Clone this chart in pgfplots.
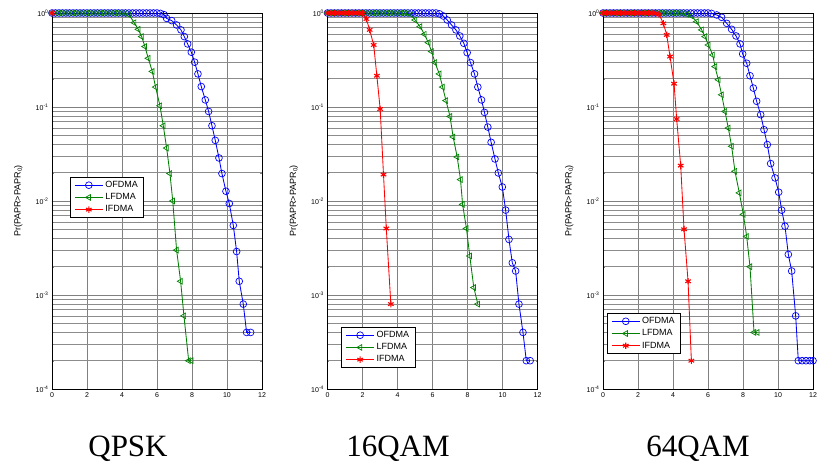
\documentclass[border=0pt]{standalone}
\usepackage{fontspec}
\setmainfont{Liberation Serif}
\setsansfont{Liberation Sans}
\usepackage{pgfplots}
\pgfplotsset{compat=1.18}
\definecolor{mblue}{RGB}{0,0,255}
\definecolor{mgreen}{RGB}{0,128,0}
\definecolor{mred}{RGB}{255,0,0}
\pgfplotsset{
  papr/.style={
    scale only axis, width=210pt, height=376pt,
    xmin=0, xmax=12, ymin=1e-4, ymax=1,
    xtick={0,2,4,6,8,10,12}, ytick={1e-4,1e-3,1e-2,1e-1,1},
    yticklabels={10\textsuperscript{-4},10\textsuperscript{-3},10\textsuperscript{-2},10\textsuperscript{-1},10\textsuperscript{0}},
    /pgf/number format/assume math mode=true,
    tick label style={font=\sffamily\fontsize{7}{8}\selectfont},
    tick align=inside, major tick length=3pt, minor tick length=1.8pt,
    grid=both, major grid style={black!50, line width=0.6pt}, minor grid style={black!45, line width=0.5pt},
    axis line style={line width=0.9pt},
    ylabel={Pr(PAPR>PAPR\textsubscript{0})},
    ylabel style={font=\sffamily\fontsize{9}{10}\selectfont, at={(axis description cs:-0.16,0.5)}, anchor=center},
    legend cell align=left,
    legend style={font=\sffamily\fontsize{9}{10}\selectfont, draw=black, line width=0.7pt, fill=white, anchor=north west, inner xsep=4pt, inner ysep=2pt, row sep=0.5pt},
    legend image code/.code={\draw[mark repeat=2,mark phase=2] plot coordinates {(0pt,0pt) (14pt,0pt) (28pt,0pt)};},
    every axis plot/.append style={line width=0.85pt},
  },
  ofdma/.style={color=mblue, mark=o, mark size=3.4pt, mark options={line width=0.7pt}},
  lfdma/.style={color=mgreen, mark=triangle, mark size=3.3pt, mark options={rotate=90, line width=0.7pt}},
  ifdma/.style={color=mred, mark=asterisk, mark size=3.2pt, mark options={line width=1.1pt}},
}
\begin{document}
\begin{tikzpicture}
\useasboundingbox (0,0) rectangle (817pt,468pt);
% ---------------- QPSK ----------------
\begin{semilogyaxis}[papr, at={(52pt,79pt)}, anchor=south west,
  legend style={at={(0.086,0.564)}}]
\addplot[ofdma] coordinates {(0,1)(0.2,1)(0.4,1)(0.6,1)(0.8,1)(1,1)(1.2,1)(1.4,1)(1.6,1)(1.8,1)(2,1)(2.2,1)(2.4,1)(2.6,1)(2.8,1)(3,1)(3.2,1)(3.4,1)(3.6,1)(3.8,1)(4,1)(4.2,1)(4.4,1)(4.6,1)(4.8,1)(5,1)(5.2,1)(5.4,1)(5.6,1)(5.8,1)(6,1)(6.2,0.99)(6.4,0.96)
(6.55,0.877)(6.84,0.830)(7.12,0.746)(7.37,0.661)(7.56,0.561)(7.75,0.469)(7.96,0.383)(8.15,0.300)(8.34,0.225)(8.53,0.165)(8.76,0.119)(8.95,0.0897)(9.14,0.0632)(9.33,0.0442)(9.54,0.0287)(9.71,0.0196)(9.94,0.0127)(10.13,0.0094)(10.36,0.0055)(10.55,0.0029)(10.70,0.0014)(10.93,0.0008)(11.12,0.0004)(11.35,0.0004)};
\addlegendentry{OFDMA}
\addplot[lfdma] coordinates {(0,1)(0.2,1)(0.4,1)(0.6,1)(0.8,1)(1,1)(1.2,1)(1.4,1)(1.6,1)(1.8,1)(2,1)(2.2,1)(2.4,1)(2.6,1)(2.8,1)(3,1)(3.2,1)(3.4,1)(3.6,1)(3.8,1)(4,1)(4.2,0.99)(4.4,0.96)
(4.70,0.789)(4.93,0.671)(5.12,0.561)(5.31,0.440)(5.50,0.330)(5.73,0.239)(5.92,0.163)(6.17,0.103)(6.36,0.0632)(6.55,0.0366)(6.74,0.0196)(6.90,0.0100)(7.12,0.0030)(7.35,0.0014)(7.54,0.0006)(7.81,0.0002)(7.96,0.0002)};
\addlegendentry{LFDMA}
\addplot[ifdma] coordinates {(0,1)};
\addlegendentry{IFDMA}
\end{semilogyaxis}
% ---------------- 16QAM ----------------
\begin{semilogyaxis}[papr, at={(327.5pt,79pt)}, anchor=south west,
  legend style={at={(0.066,0.165)}}]
\addplot[ofdma] coordinates {(0,1)(0.2,1)(0.4,1)(0.6,1)(0.8,1)(1,1)(1.2,1)(1.4,1)(1.6,1)(1.8,1)(2,1)(2.2,1)(2.4,1)(2.6,1)(2.8,1)(3,1)(3.2,1)(3.4,1)(3.6,1)(3.8,1)(4,1)(4.2,1)(4.4,1)(4.6,1)(4.8,1)(5,1)(5.2,1)(5.4,1)(5.6,1)(5.8,1)(6,1)(6.2,1)(6.4,0.98)
(6.62,0.929)(6.84,0.843)(7.09,0.746)(7.34,0.661)(7.56,0.570)(7.79,0.476)(7.98,0.379)(8.17,0.297)(8.40,0.225)(8.59,0.163)(8.80,0.119)(8.97,0.0877)(9.16,0.0612)(9.35,0.0421)(9.57,0.0280)(9.76,0.0199)(9.99,0.0141)(10.18,0.0080)(10.37,0.0039)(10.56,0.0022)(10.75,0.0018)(10.94,0.0008)(11.17,0.0004)(11.36,0.0002)(11.58,0.0002)};
\addlegendentry{OFDMA}
\addplot[lfdma] coordinates {(0,1)(0.2,1)(0.4,1)(0.6,1)(0.8,1)(1,1)(1.2,1)(1.4,1)(1.6,1)(1.8,1)(2,1)(2.2,1)(2.4,1)(2.6,1)(2.8,1)(3,1)(3.2,1)(3.4,1)(3.6,1)(3.8,1)(4,1)(4.2,1)(4.4,1)(4.6,0.99)(4.8,0.96)
(5.00,0.843)(5.29,0.716)(5.54,0.594)(5.76,0.484)(5.95,0.389)(6.14,0.297)(6.39,0.225)(6.58,0.163)(6.77,0.117)(7.00,0.0794)(7.18,0.0480)(7.41,0.0294)(7.60,0.0169)(7.72,0.0092)(7.94,0.0051)(8.13,0.0026)(8.36,0.0012)(8.59,0.0008)};
\addlegendentry{LFDMA}
\addplot[ifdma] coordinates {(0,1)(0.2,1)(0.4,1)(0.6,1)(0.8,1)(1,1)(1.2,1)(1.4,1)(1.6,1)(1.8,1)(2.0,0.99)
(2.22,0.863)(2.41,0.661)(2.64,0.457)(2.82,0.215)(3.01,0.0951)(3.20,0.0191)(3.36,0.0051)(3.62,0.0008)};
\addlegendentry{IFDMA}
\end{semilogyaxis}
% ---------------- 64QAM ----------------
\begin{semilogyaxis}[papr, at={(603pt,79pt)}, anchor=south west,
  legend style={at={(0.019,0.202)}}]
\addplot[ofdma] coordinates {(0,1)(0.2,1)(0.4,1)(0.6,1)(0.8,1)(1,1)(1.2,1)(1.4,1)(1.6,1)(1.8,1)(2,1)(2.2,1)(2.4,1)(2.6,1)(2.8,1)(3,1)(3.2,1)(3.4,1)(3.6,1)(3.8,1)(4,1)(4.2,1)(4.4,1)(4.6,1)(4.8,1)(5,1)(5.2,1)(5.4,1)(5.6,1)(5.8,1)(6,1)(6.2,0.99)
(6.50,0.953)(6.78,0.900)(7.07,0.776)(7.35,0.671)(7.60,0.570)(7.83,0.469)(7.98,0.367)(8.21,0.292)(8.40,0.215)(8.59,0.159)(8.78,0.115)(9.01,0.0828)(9.20,0.0574)(9.39,0.0398)(9.58,0.0250)(9.83,0.0176)(10.04,0.0124)(10.21,0.0080)(10.40,0.0054)(10.59,0.0027)(10.78,0.0018)(11.01,0.0006)(11.16,0.0002)(11.38,0.0002)(11.60,0.0002)(11.82,0.0002)(12.0,0.0002)};
\addlegendentry{OFDMA}
\addplot[lfdma] coordinates {(0,1)(0.2,1)(0.4,1)(0.6,1)(0.8,1)(1,1)(1.2,1)(1.4,1)(1.6,1)(1.8,1)(2,1)(2.2,1)(2.4,1)(2.6,1)(2.8,1)(3,1)(3.2,1)(3.4,1)(3.6,1)(3.8,1)(4,1)(4.2,1)(4.4,1)(4.6,0.99)(4.8,0.97)
(5.07,0.929)(5.35,0.809)(5.64,0.661)(5.83,0.561)(6.02,0.457)(6.27,0.358)(6.40,0.269)(6.59,0.195)(6.78,0.135)(6.97,0.0897)(7.16,0.0597)(7.35,0.0382)(7.54,0.0207)(7.79,0.0122)(8.02,0.0072)(8.21,0.0042)(8.40,0.0020)(8.63,0.0004)(8.82,0.0004)};
\addlegendentry{LFDMA}
\addplot[ifdma] coordinates {(0,1)(0.2,1)(0.4,1)(0.6,1)(0.8,1)(1,1)(1.2,1)(1.4,1)(1.6,1)(1.8,1)(2,1)(2.2,1)(2.4,1)(2.6,1)(2.8,1)(3.0,0.99)(3.2,0.97)
(3.45,0.776)(3.64,0.585)(3.83,0.344)(4.06,0.177)(4.21,0.0745)(4.44,0.0238)(4.63,0.0050)(4.86,0.0014)(5.05,0.0002)};
\addlegendentry{IFDMA}
\end{semilogyaxis}
\node[font=\fontsize{31}{36}\selectfont, anchor=base] at (128pt,11pt) {QPSK};
\node[font=\fontsize{31}{36}\selectfont, anchor=base] at (398pt,11pt) {16QAM};
\node[font=\fontsize{31}{36}\selectfont, anchor=base] at (698pt,11pt) {64QAM};
\end{tikzpicture}
\end{document}
